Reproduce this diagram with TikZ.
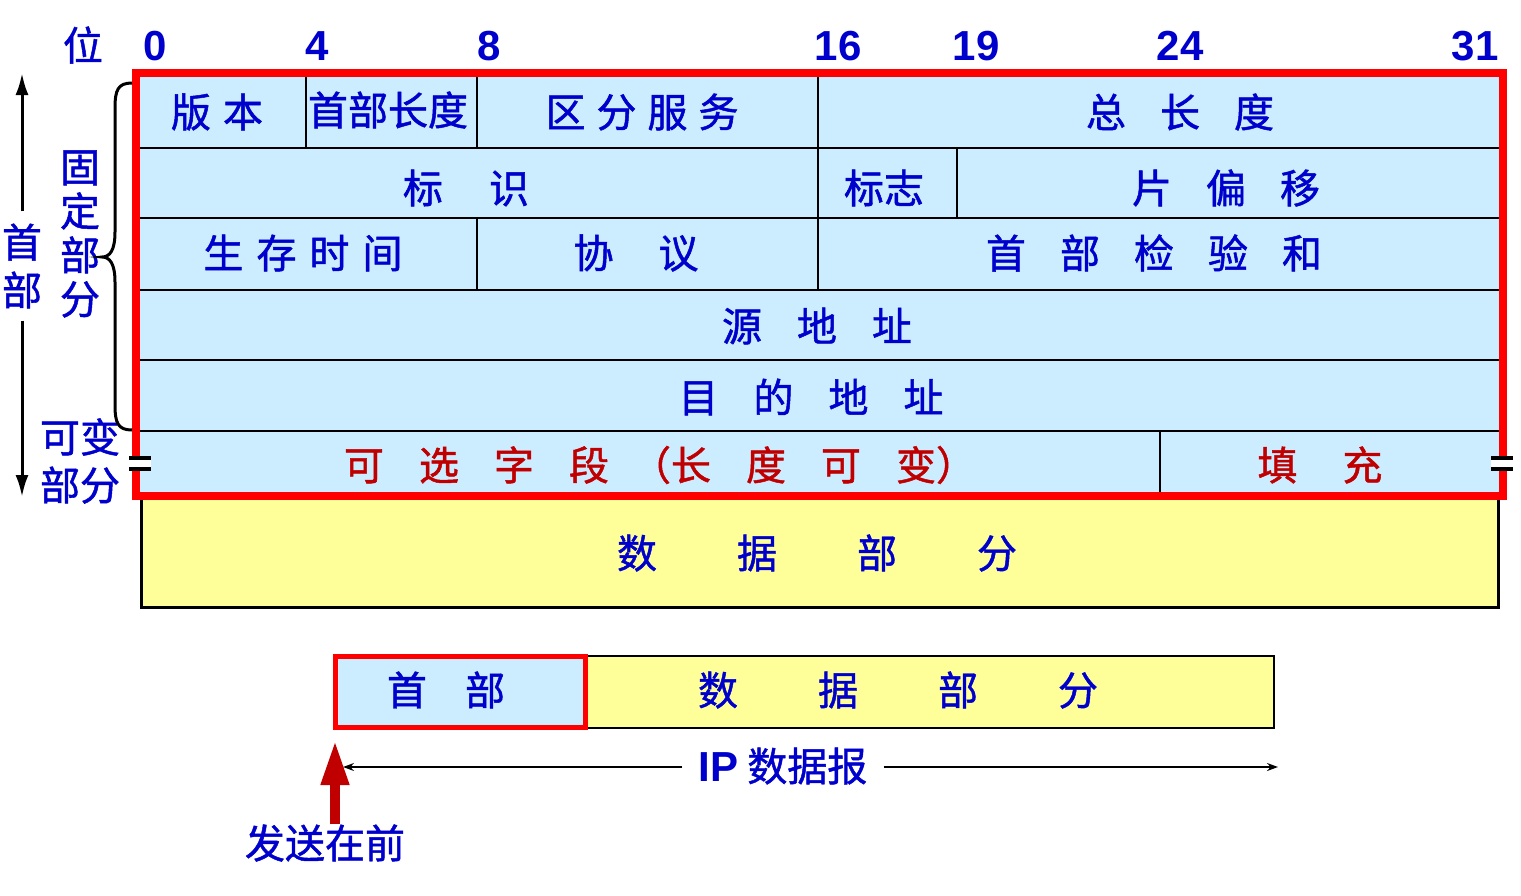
\documentclass[tikz,border=0pt]{standalone}
\usepackage{fontspec}
\setmainfont{Noto Sans CJK SC}[FakeBold=1.2]
\newfontfamily\numfont{Liberation Sans}
\usetikzlibrary{arrows.meta}
\definecolor{tblue}{RGB}{0,0,204}
\definecolor{tred}{RGB}{192,0,0}
\definecolor{lblue}{RGB}{204,236,255}
\definecolor{yel}{RGB}{255,255,153}
\definecolor{frame}{RGB}{255,0,0}
\newcommand{\gp}[1]{\hspace{#1pt}}
\begin{document}
\begin{tikzpicture}[x=1pt,y=-1pt,
  txt/.style={inner sep=0pt, text=tblue, font=\fontsize{40}{44}\selectfont},
  rtxt/.style={txt, text=tred},
  num/.style={inner sep=0pt, text=tblue, font=\numfont\bfseries\fontsize{42}{44}\selectfont},
  grid/.style={line width=2.5pt, black},
  brk/.style={line width=3.5pt, black}]
\useasboundingbox (0,0) rectangle (1521,895);
% header fill
\fill[lblue] (136,73) rectangle (1503,496);
% data part
\fill[yel] (141,496) rectangle (1498,607);
\draw[line width=3pt] (141,496) -- (141,607) -- (1498,607) -- (1498,496);
% grid lines
\foreach \yy in {148,218,290,360,431} \draw[grid] (140,\yy) -- (1499,\yy);
\draw[grid] (306,77) -- (306,148);
\draw[grid] (477,77) -- (477,148);
\draw[grid] (818,77) -- (818,290);
\draw[grid] (957,148) -- (957,218);
\draw[grid] (477,218) -- (477,290);
\draw[grid] (1160,431) -- (1160,492);
% red frame
\draw[frame, line width=8pt] (136,73) rectangle (1503,496);
% break marks
\fill[white] (129,459) rectangle (151,468);
\draw[brk] (129,458) -- (151,458) (129,469) -- (151,469);
\fill[white] (1491,459) rectangle (1513,468);
\draw[brk] (1491,458) -- (1513,458) (1491,469) -- (1513,469);
% bit labels
\node[txt] (wei) at (83,45) {位};
\node[num] (b0) at (155,46) {0};
\node[num] (b4) at (317,46) {4};
\node[num] (b8) at (489,46) {8};
\node[num] (b16) at (838,46) {16};
\node[num] (b19) at (976,46) {19};
\node[num] (b24) at (1180,46) {24};
\node[num] (b31) at (1475,46) {31};
% field texts
\node[txt] (ver) at (217,112) {版\gp{12}本};
\node[txt] (hl) at (388,110) {首部长度};
\node[txt] (ds) at (642,112) {区\gp{11}分\gp{11}服\gp{11}务};
\node[txt] (tl) at (1180,112) {总\gp{34}长\gp{34}度};
\node[txt] (ident) at (466,188) {标\gp{46}识};
\node[txt] (flag) at (884,188) {标志};
\node[txt] (fo) at (1226,188) {片\gp{34}偏\gp{34}移};
\node[txt] (ttl) at (303,253) {生\gp{13}存\gp{13}时\gp{13}间};
\node[txt] (proto) at (636,253) {协\gp{45}议};
\node[txt] (cs) at (1154,253) {首\gp{34}部\gp{34}检\gp{34}验\gp{34}和};
\node[txt] (src) at (817,326) {源\gp{35}地\gp{35}址};
\node[txt] (dst) at (811,397) {目\gp{35}的\gp{35}地\gp{35}址};
\node[rtxt] (opt) at (660,465) {可\gp{35}选\gp{35}字\gp{35}段\gp{22}（长\gp{35}度\gp{35}可\gp{35}变）};
\node[rtxt] (pad) at (1320,465) {填\gp{45}充};
\node[txt] (data) at (817,553) {数\gp{80}据\gp{80}部\gp{80}分};
% left annotations
\node[txt, align=center, font=\fontsize{40}{48}\selectfont] (hd) at (22,266) {首\\部};
\coordinate (atop) at (22,73);
\coordinate (abot) at (22,497);
\draw[line width=3pt, -{Latex[length=22pt,width=13pt]}] ([yshift=12pt]hd.north) -- (atop);
\draw[line width=3pt, -{Latex[length=22pt,width=13pt]}] ([yshift=-12pt]hd.south) -- (abot);
\node[txt, align=center, font=\fontsize{40}{44}\selectfont] (fixed) at (80,234) {固\\定\\部\\分};
\node[txt, align=center, font=\fontsize{40}{48}\selectfont] (var) at (80,461) {可变\\部分};
\draw[line width=3pt] (132,83) .. controls (118,83) and (115,90) .. (115,108) -- (115,232)
  .. controls (115,250) and (110,257) .. (102,257)
  .. controls (110,257) and (115,264) .. (115,282) -- (115,405)
  .. controls (115,423) and (118,430) .. (132,430);
% bottom datagram
\draw[fill=yel, line width=2pt] (585,656) rectangle (1274,728);
\draw[frame, fill=lblue, line width=5pt] (335,656) rectangle (585,727);
\node[txt] (hdr2) at (446,690) {首\gp{38}部};
\node[txt] (data2) at (898,690) {数\gp{80}据\gp{80}部\gp{80}分};
\node[txt, inner xsep=16pt] (ip) at (783,766) {{\numfont\bfseries\fontsize{42}{44}\selectfont IP} 数据报};
\coordinate (ipL) at (343,767);
\coordinate (ipR) at (1278,767);
\draw[line width=1.5pt, -{Stealth[length=11pt,width=8pt]}] (ip.west |- ipL) -- (ipL);
\draw[line width=1.5pt, -{Stealth[length=11pt,width=8pt]}] (ip.east |- ipR) -- (ipR);
\node[txt] (send) at (325,843) {发送在前};
\coordinate (sendtip) at (335,740);
\draw[tred, line width=10pt, -{Triangle[length=45pt,width=26pt]}] (sendtip |- send.north) -- (sendtip);
\end{tikzpicture}
\end{document}
